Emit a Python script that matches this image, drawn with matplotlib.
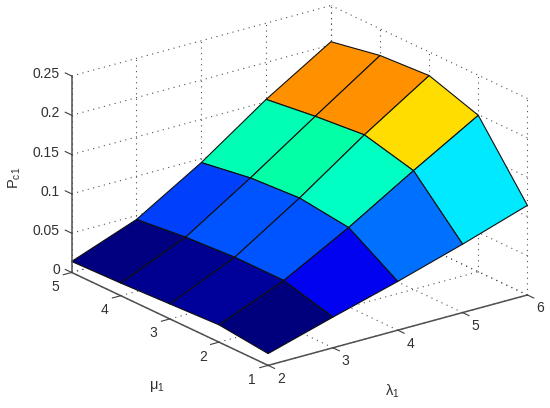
import numpy as np
from matplotlib import pyplot as plt
from matplotlib.colors import LinearSegmentedColormap
from mpl_toolkits.mplot3d import proj3d

plt.rcParams['font.family'] = ['Liberation Sans', 'DejaVu Sans']
plt.rcParams['mathtext.fontset'] = 'custom'
plt.rcParams['mathtext.rm'] = 'Liberation Sans'
plt.rcParams['mathtext.it'] = 'Liberation Sans'
plt.rcParams['mathtext.default'] = 'regular'

# values
lam = [2, 3, 4, 5, 6]
mu = [1, 2, 3, 4, 5]
# one row per lambda, columns are mu = 1..5
pc1 = [[0.015, 0.022, 0.019, 0.016, 0.014],
       [0.039, 0.056, 0.056, 0.052, 0.045],
       [0.062, 0.101, 0.109, 0.105, 0.095],
       [0.087, 0.151, 0.167, 0.161, 0.153],
       [0.114, 0.199, 0.220, 0.216, 0.204]]
lam_ticks = [2, 3, 4, 5, 6]
mu_ticks = [1, 2, 3, 4, 5]
z_ticks = [0, 0.05, 0.1, 0.15, 0.2, 0.25]
z_labels = ['0', '0.05', '0.1', '0.15', '0.2', '0.25']

# jet as it looks in the picture, no red in the greens
jet_stops = [(0.0, '#000078'), (0.12, '#0000F0'), (0.2, '#0050FF'), (0.23, '#0070FF'),
             (0.36, '#00F0FF'), (0.42, '#00FFC4'), (0.46, '#00FFA8'), (0.55, '#60FF60'),
             (0.665, '#FFE000'), (0.71, '#FF9000'), (0.75, '#FF9000'), (1.0, '#800000')]
jet_pic = LinearSegmentedColormap.from_list('jet_pic', jet_stops)

W, H = 550.0, 408.0
fig = plt.figure(figsize=(5.5, 4.08), dpi=100)
ax = fig.add_axes([17.1 / W, -59.9 / H, 1.0, 550 / H], projection='3d',
                  proj_type='ortho', computed_zorder=False)
ax.set_box_aspect((1, 1, 0.647), zoom=0.893)
ax.view_init(elev=21, azim=-127.15)
ax.set_xlim(2, 6, view_margin=0)
ax.set_ylim(1, 5, view_margin=0)
ax.set_zlim(0, 0.25, view_margin=0)
ax.set_xticks([])
ax.set_yticks([])
ax.set_zticks([])
ax.set_axis_off()


def label(x, y, z, s, ha='center'):
    # plain 2d text at the projected spot
    x2, y2, _ = proj3d.proj_transform(x, y, z, ax.get_proj())
    ax.text2D(x2, y2, s, ha=ha, va='center', fontsize=10, color='#303030')


# dotted grid on floor and the two back walls
grid = dict(color='#505050', lw=0.8, ls=(0, (1, 4)), zorder=1)
for l in lam_ticks:
    ax.plot([l, l], [1, 5], [0, 0], **grid)
    ax.plot([l, l], [5, 5], [0, 0.25], **grid)
for m in mu_ticks:
    ax.plot([2, 6], [m, m], [0, 0], **grid)
    ax.plot([6, 6], [m, m], [0, 0.25], **grid)
for z in z_ticks:
    ax.plot([2, 6], [5, 5], [z, z], **grid)
    ax.plot([6, 6], [1, 5], [z, z], **grid)

# surface, flat colour from the lowest index corner like matlab
X, Y = np.meshgrid(lam, mu, indexing='ij')
Z = np.array(pc1)
norm = plt.Normalize(Z.min(), Z.max())
cols = jet_pic(norm(Z))
ax.plot_surface(X, Y, Z, rstride=1, cstride=1, facecolors=cols, shade=False,
                edgecolor='#101010', linewidth=0.8, antialiased=True, zorder=2)

# axis lines and ticks
axc = dict(color='#505050', lw=1.1, zorder=3)
ax.plot([2, 2], [5, 5], [0, 0.25], **axc)
ax.plot([2, 2], [1, 5], [0, 0], **axc)
ax.plot([2, 6], [1, 1], [0, 0], **axc)
tk = dict(color='#404040', lw=0.8, zorder=3)
for z, s in zip(z_ticks, z_labels):
    ax.plot([2, 2], [5, 5.13], [z, z], **tk)
    label(2, 5.24, z - 0.0045, s, ha='right')
for m in mu_ticks:
    ax.plot([2, 1.87], [m, m], [0, 0], **tk)
    label(1.75, m, -0.0127, str(m))
for l in lam_ticks:
    ax.plot([l, l], [1, 0.87], [0, 0], **tk)
    label(l, 0.74, -0.0095, str(l))

fig.text(15 / W, 1 - 178 / H, 'P$_{c1}$', rotation=90, ha='center', va='center',
         fontsize=10.5, color='#303030')
fig.text(157 / W, 1 - 387 / H, 'μ$_1$', ha='center', va='center', fontsize=10.5, color='#303030')
fig.text(392 / W, 1 - 391 / H, 'λ$_1$', ha='center', va='center', fontsize=10.5, color='#303030')

fig.savefig('out.png', dpi=100)
